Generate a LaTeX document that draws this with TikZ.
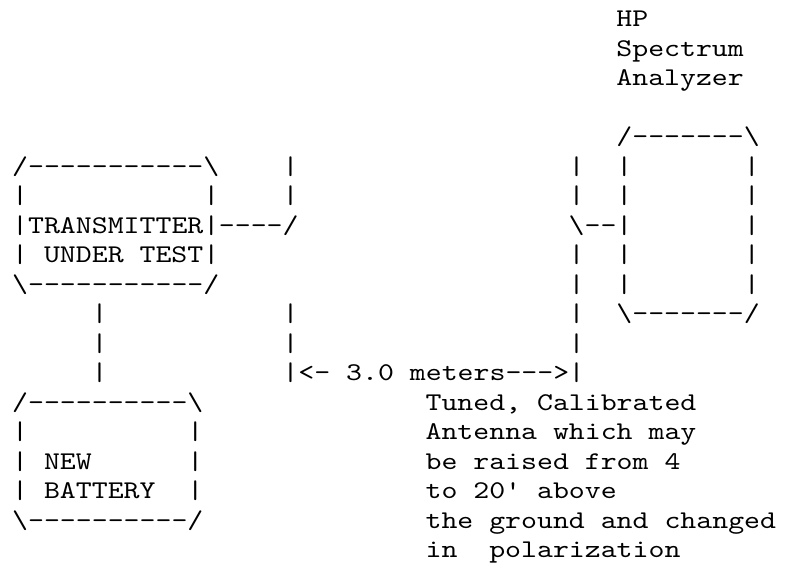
\documentclass[tikz,border=0pt]{standalone}
\usepackage{fontspec}
\usepackage{tikz}

% Courier-like typewriter text, stretched to the grid of the drawing
\setmonofont{lmmono10-regular.otf}[FakeStretch=1.19]

\begin{document}
\begin{tikzpicture}[
    % one unit = one character column / one text row
    x=15.9pt, y=-29.5pt,
    % style for every block of text; a block sits on the baseline of its last row
    ascii/.style={
        anchor=base west,
        inner sep=0pt,
        align=left,
        font=\ttfamily\fontsize{25.5pt}{29.5pt}\selectfont
    }
]
\useasboundingbox (-12pt,-2.8pt) rectangle (775pt,-579.8pt);

% =====================================================================
% SPECTRUM ANALYZER
% =====================================================================
\node (label) [ascii] at (38,3) {HP\\Spectrum\\Analyzer};
\node (analyzer) [ascii] at (38,11) {/-------\textbackslash\\
|~~~~~~~|\\|~~~~~~~|\\|~~~~~~~|\\|~~~~~~~|\\|~~~~~~~|\\
\textbackslash-------/};
\node (rxant) [ascii] at (35,13) {|\\|\\\textbackslash--\\|\\|\\|\\|\\|};

% =====================================================================
% TRANSMITTER
% =====================================================================
\node (tx) [ascii] at (0,10) {/-----------\textbackslash\\
|~~~~~~~~~~~|\\|TRANSMITTER|\\|~UNDER~TEST|\\
\textbackslash-----------/};
\node (txant) [ascii] at (13,8) {~~~~|\\~~~~|\\----/};
\node (range) [ascii] at (17,13) {|\\|\\|<- 3.0 meters--->};

% =====================================================================
% BATTERY
% =====================================================================
\node (lead) [ascii] at (5,13) {|\\|\\|};
\node (battery) [ascii] at (0,18) {/----------\textbackslash\\
|~~~~~~~~~~|\\|~NEW~~~~~~|\\|~BATTERY~~|\\
\textbackslash----------/};

% =====================================================================
% ANTENNA NOTE
% =====================================================================
\node (note) [ascii] at (26,19) {Tuned, Calibrated\\Antenna which may\\
be raised from 4\\to 20' above\\the ground and changed\\in~~polarization};

\end{tikzpicture}
\end{document}
